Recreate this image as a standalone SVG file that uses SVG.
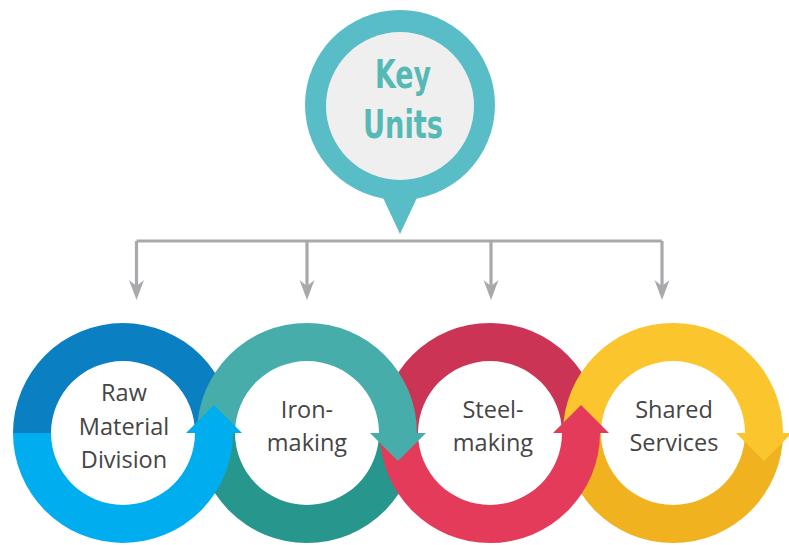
<svg xmlns="http://www.w3.org/2000/svg" width="789" height="545" viewBox="0 0 789 545">
<defs>
<style>
.lbl{font-family:"Open Sans","Noto Sans","DejaVu Sans",sans-serif;font-size:23.5px;fill:#454545;text-anchor:middle}
.key{font-family:"DejaVu Sans Condensed","DejaVu Sans",sans-serif;font-weight:bold;font-size:39px;fill:#55bab5;text-anchor:middle}
.conn{fill:none;stroke:#a7a9ac;stroke-width:3.2}
</style>
<marker id="ah" viewBox="0 -8 20 16" refX="6" refY="0" markerWidth="20" markerHeight="16" markerUnits="userSpaceOnUse" orient="auto">
<path d="M0,-7.5 L20,0 L0,7.5 L6,0 Z" fill="#a7a9ac"/>
</marker>
</defs>
<rect width="789" height="545" fill="#ffffff"/>

<g id="key-units">
<circle cx="400" cy="105" r="95" fill="#58bdc6"/>
<polygon points="377,185 423,185 400,234" fill="#58bdc6"/>
<circle cx="400" cy="106" r="74" fill="#efefef"/>
<text class="key" x="403" y="88" textLength="56" lengthAdjust="spacingAndGlyphs">Key</text>
<text class="key" x="403" y="138" textLength="80" lengthAdjust="spacingAndGlyphs">Units</text>
</g>

<g id="connectors">
<path class="conn" d="M136.5,241 H662"/>
<path class="conn" d="M136.5,241 V286" marker-end="url(#ah)"/>
<path class="conn" d="M307,241 V286" marker-end="url(#ah)"/>
<path class="conn" d="M491,241 V286" marker-end="url(#ah)"/>
<path class="conn" d="M662,241 V286" marker-end="url(#ah)"/>
</g>

<!-- dark halves first -->
<g id="rings-back">
<path d="M13,433 A110,110 0 0 1 233,433 L195,433 A72,72 0 0 0 51,433 Z" fill="#0a7fc2"/>
<path d="M197,433 A110,110 0 0 0 417,433 L379,433 A72,72 0 0 1 235,433 Z" fill="#27968c"/>
<path d="M380,433 A110,110 0 0 1 600,433 L562,433 A72,72 0 0 0 418,433 Z" fill="#cc3455"/>
<path d="M563,433 A110,110 0 0 0 783,433 L745,433 A72,72 0 0 1 601,433 Z" fill="#f0b21f"/>
</g>

<g id="shared-services">
<path d="M563,433 A110,110 0 0 1 783,433 L792,433 L764,461 L736,433 L745,433 A72,72 0 0 0 601,433 Z" fill="#fbc52e"/>
<text class="lbl" x="674" y="418">Shared</text>
<text class="lbl" x="674" y="451">Services</text>
</g>

<g id="steel-making">
<path d="M380,433 A110,110 0 0 0 600,433 L609,433 L581,405 L553,433 L562,433 A72,72 0 0 1 418,433 Z" fill="#e43b5b"/>
<text class="lbl" x="493" y="418">Steel-</text>
<text class="lbl" x="493" y="451">making</text>
</g>

<g id="iron-making">
<path d="M197,433 A110,110 0 0 1 417,433 L426,433 L398,461 L370,433 L379,433 A72,72 0 0 0 235,433 Z" fill="#47adab"/>
<text class="lbl" x="307" y="418">Iron-</text>
<text class="lbl" x="307" y="451">making</text>
</g>

<g id="raw-material-division">
<path d="M13,433 A110,110 0 0 0 233,433 L242,433 L214,405 L186,433 L195,433 A72,72 0 0 1 51,433 Z" fill="#00adee"/>
<text class="lbl" x="124" y="401">Raw</text>
<text class="lbl" x="124" y="435">Material</text>
<text class="lbl" x="124" y="468">Division</text>
</g>
</svg>
